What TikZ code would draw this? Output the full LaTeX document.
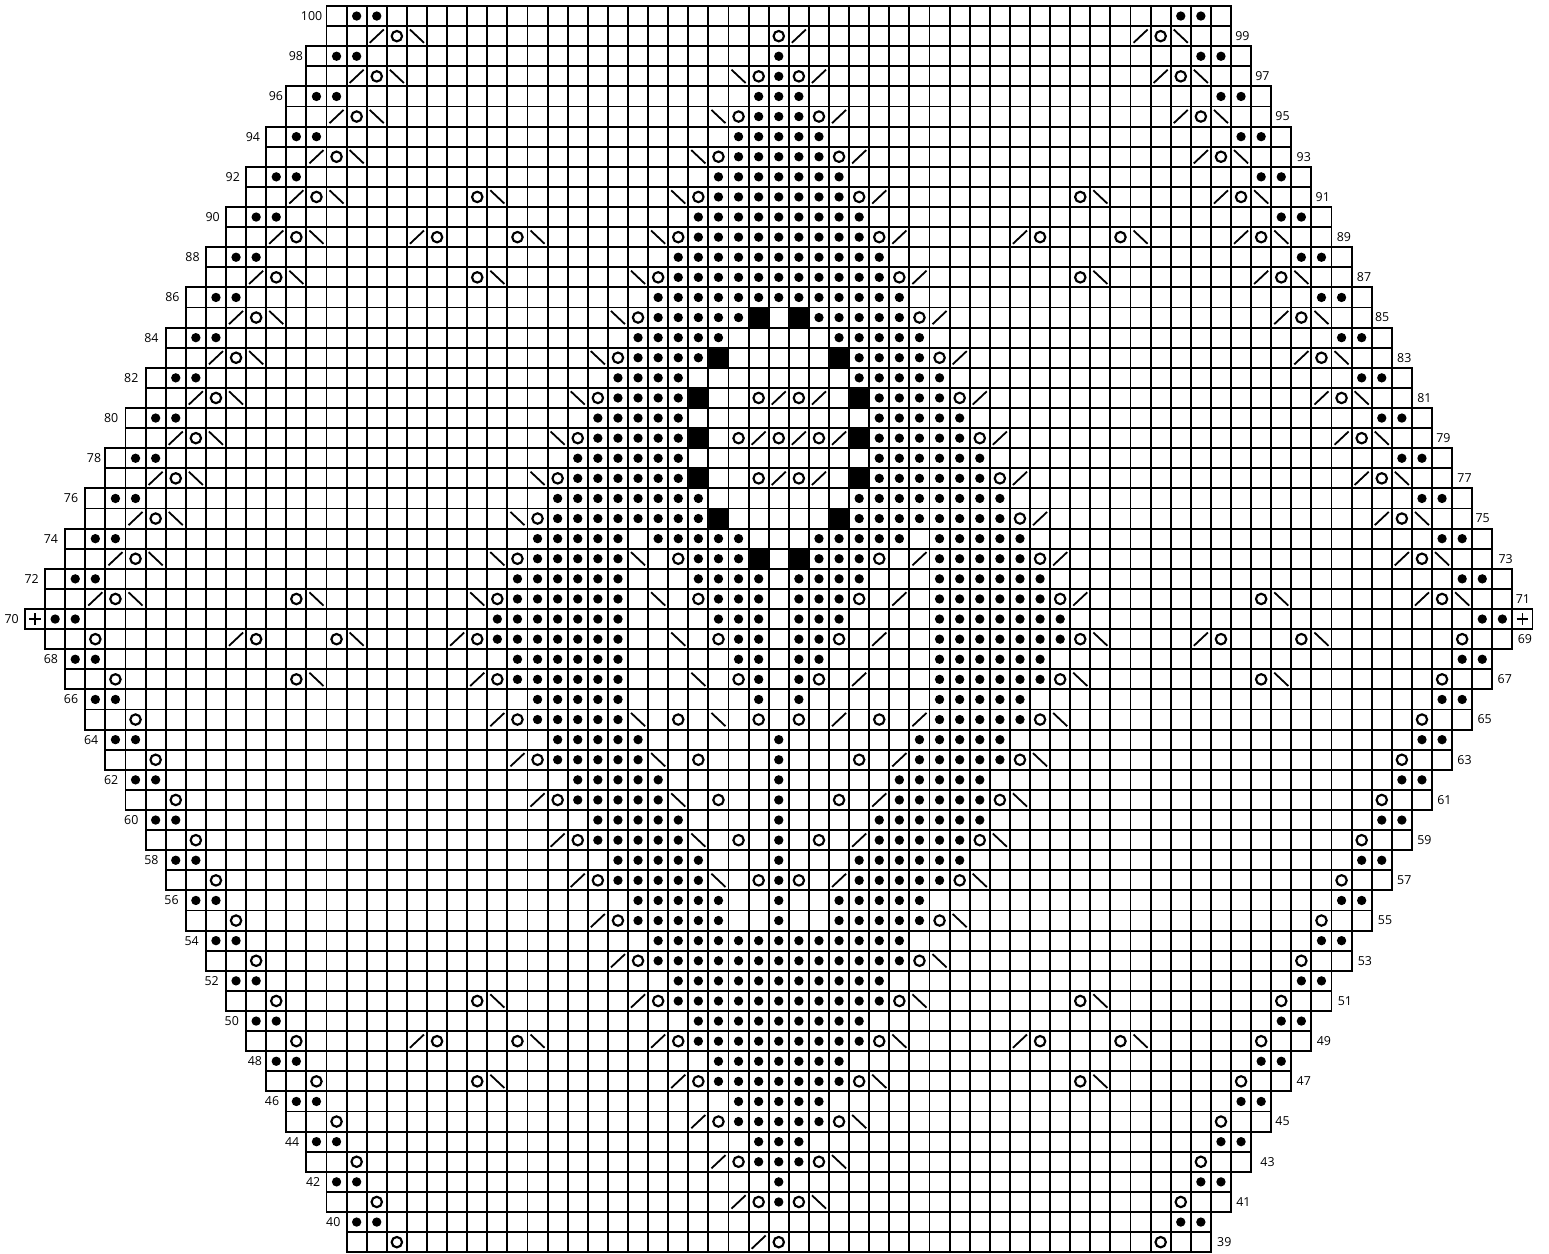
\documentclass[tikz,border=0pt]{standalone}
\usepackage{fontspec}
\setmainfont{Open Sans}
\tikzset{
  gridline/.style={line width=1.45pt,step=1},
  bobble/.style={fill=black},
  yarnover/.style={line width=1.6pt},
  decrease/.style={line width=1.35pt},
  rowlab/.style={inner sep=0pt,font=\fontsize{9.3}{9.3}\selectfont},
}
\begin{document}
\begin{tikzpicture}[x=15.075pt,y=15.075pt]
\useasboundingbox (-1.2438,.2985) rectangle (75.82,-62.04);
% rows in pairs: number/left/right/gap of left label/gap of right label (in pt)
\foreach \n/\a/\b/\gl/\gr in {100/15/60/3/3,98/14/61/2.3/3,96/13/62/2.3/3,94/12/63/4.5/3.8,92/11/64/4.5/3,
  90/10/65/4.5/3.8,88/9/66/4.5/3.8,86/8/67/4.5/2.3,84/7/68/5.2/3.8,82/6/69/5.2/3.8,80/5/70/5.2/3,
  78/4/71/3/3.8,76/3/72/5.2/2.3,74/2/73/5.2/4.5,72/1/74/4.5/2.3,
  68/2/73/5.2/3.8,66/3/72/5.2/3.8,64/4/71/5.2/3.8,62/5/70/5.2/3.8,60/6/69/5.2/3.8,
  58/7/68/5.2/3.8,56/8/67/5.2/4.5,54/9/66/5.2/4.5,52/10/65/5.2/4.5,50/11/64/5.2/3.8,
  48/12/63/3/3.8,46/13/62/5.2/3,44/14/61/5.2/6.8,42/15/60/4.5/3.8,40/16/59/4.5/4.5}{
  \draw[gridline] (\a,\n-102) grid (\b,\n-100);
  \draw[gridline] (\a,\n-102) rectangle (\b,\n-100);
  \node[rowlab,anchor=east] (lab\n) at ([xshift=-\gl pt]\a,\n-100.5) {\n};
  \pgfmathtruncatemacro{\m}{\n-1}
  \node[rowlab,anchor=west] (lab\m) at ([xshift=\gr pt]\b,\n-101.5) {\m};
}
% the two middle rows
\draw[gridline] (0,-31) grid (75,-30);
\draw[gridline] (0,-31) rectangle (75,-30);
\draw[gridline] (1,-32) grid (74,-31);
\draw[gridline] (1,-32) rectangle (74,-31);
\node[rowlab,anchor=east] (lab70) at ([xshift=-4.5pt]0,-30.5) {70};
\node[rowlab,anchor=west] (lab69) at ([xshift=3.8pt]74,-31.5) {69};
% solid cells
\foreach \n/\cs in {85/{36,38},83/{34,40},81/{33,41},79/{33,41},77/{33,41},75/{34,40},73/{36,38}}{
  \foreach \c in \cs {\fill (\c,\n-101) rectangle (\c+1,\n-100);}
}
% purl dots, as runs first/last
\foreach \n/\cs in {100/{16/17,57/58},98/{15/16,37/37,58/59},97/{37/37},96/{14/15,36/38,59/60},95/{36/38},
  94/{13/14,35/39,60/61},93/{35/39},92/{12/13,34/40,61/62},91/{34/40},
  90/{11/12,33/41,62/63},89/{33/41},88/{10/11,32/42,63/64},87/{32/42},
  86/{9/10,31/43,64/65},85/{31/35,39/43},84/{8/9,30/34,40/44,65/66},83/{30/33,41/44},
  82/{7/8,29/32,41/45,66/67},81/{29/32,42/45},80/{6/7,28/32,42/46,67/68},79/{28/32,42/46},
  78/{5/6,27/32,42/47,68/69},77/{27/32,42/47},76/{4/5,26/33,41/48,69/70},75/{26/33,41/48},
  74/{3/4,25/29,31/35,39/43,45/49,70/71},73/{25/29,33/35,39/41,45/49},
  72/{2/3,24/29,33/36,38/41,45/50,71/72},71/{24/29,34/36,38/40,45/50},
  70/{1/2,23/29,34/36,38/40,45/51,72/73},69/{23/29,35/36,38/39,45/51},
  68/{2/3,24/29,35/36,38/39,45/50,71/72},67/{24/29,36/36,38/38,45/50},
  66/{3/4,25/29,36/36,38/38,45/49,70/71},65/{25/29,45/49},
  64/{4/5,26/30,37/37,44/48,69/70},63/{26/30,37/37,44/48},
  62/{5/6,27/31,37/37,43/47,68/69},61/{27/31,37/37,43/47},
  60/{6/7,28/32,37/37,42/47,67/68},59/{28/32,37/37,42/46},
  58/{7/8,29/33,37/37,41/46,66/67},57/{29/33,37/37,41/45},
  56/{8/9,30/34,37/37,40/44,65/66},55/{30/34,37/37,40/44},
  54/{9/10,31/43,64/65},53/{31/43},52/{10/11,32/42,63/64},51/{32/42},
  50/{11/12,33/41,62/63},49/{33/41},48/{12/13,34/40,61/62},47/{34/40},
  46/{13/14,35/39,60/61},45/{35/39},44/{14/15,36/38,59/60},43/{36/38},
  42/{15/16,37/37,58/59},41/{37/37},40/{16/17,57/58}}{
  \foreach \p/\q in \cs {
    \foreach \c in {\p,...,\q} {\fill[bobble] (\c+.5,\n-100.5) circle (3.5pt);}
  }
}
% yarn overs
\foreach \n/\cs in {99/{18,37,56},97/{17,36,38,57},95/{16,35,39,58},93/{15,34,40,59},91/{14,22,33,41,52,60},
  89/{13,20,24,32,42,50,54,61},87/{12,22,31,43,52,62},85/{11,30,44,63},83/{10,29,45,64},81/{9,28,36,38,46,65},
  79/{8,27,35,37,39,47,66},77/{7,26,36,38,48,67},75/{6,25,49,68},73/{5,24,32,42,50,69},
  71/{4,13,23,33,41,51,61,70},69/{3,11,15,22,34,40,52,59,63,71},67/{4,13,23,35,39,51,61,70},
  65/{5,24,32,36,38,42,50,69},63/{6,25,33,41,49,68},61/{7,26,34,40,48,67},59/{8,27,35,39,47,66},
  57/{9,28,36,38,46,65},55/{10,29,45,64},53/{11,30,44,63},51/{12,22,31,43,52,62},
  49/{13,20,24,32,42,50,54,61},47/{14,22,33,41,52,60},45/{15,34,40,59},43/{16,35,39,58},41/{17,36,38,57},39/{18,37,56}}{
  \foreach \c in \cs {\draw[yarnover] (\c+.5,\n-100.5) circle (3.9pt);}
}
% right leaning
\foreach \n/\cs in {99/{17,38,55},97/{16,39,56},95/{15,40,57},93/{14,41,58},91/{13,42,59},89/{12,19,43,49,60},
  87/{11,44,61},85/{10,45,62},83/{9,46,63},81/{8,37,39,47,64},79/{7,36,38,40,48,65},77/{6,37,39,49,66},75/{5,50,67},
  73/{4,44,51,68},71/{3,43,52,69},69/{10,21,42,58},67/{22,41},65/{23,40,44},63/{24,43},61/{25,42},59/{26,41},57/{27,40},
  55/{28},53/{29},51/{30},49/{19,31,49},47/{32},45/{33},43/{34},41/{35},39/{36}}{
  \foreach \c in \cs {\draw[decrease] (\c+.15,\n-100.83)--(\c+.85,\n-100.17);}
}
% left leaning
\foreach \n/\cs in {99/{19,57},97/{18,35,58},95/{17,34,59},93/{16,33,60},91/{15,23,32,53,61},89/{14,25,31,55,62},
  87/{13,23,30,53,63},85/{12,29,64},83/{11,28,65},81/{10,27,66},79/{9,26,67},77/{8,25,68},75/{7,24,69},
  73/{6,23,30,70},71/{5,14,22,31,62,71},69/{16,32,53,64},67/{14,33,52,62},65/{30,34,51},63/{31,50},61/{32,49},
  59/{33,48},57/{34,47},55/{46},53/{45},51/{23,44,53},49/{25,43,55},47/{23,42,53},45/{41},43/{40},41/{39}}{
  \foreach \c in \cs {\draw[decrease] (\c+.15,\n-100.17)--(\c+.85,\n-100.83);}
}
% end stitches of row 70
\foreach \c in {0,74}{
  \draw[line width=.9pt] (\c+.21,-30.5)--(\c+.79,-30.5) (\c+.5,-30.79)--(\c+.5,-30.21);
}
\end{tikzpicture}
\end{document}
